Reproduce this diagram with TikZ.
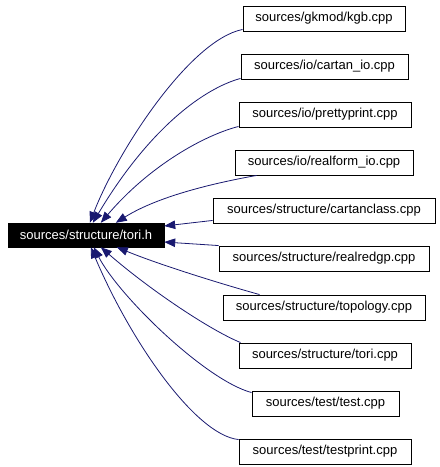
\documentclass[tikz,border=0pt]{standalone}
\usepackage{fontspec}
\setmainfont{Liberation Sans}
\usetikzlibrary{arrows.meta}
\definecolor{edgeblue}{HTML}{191970}
\begin{document}
\begin{tikzpicture}[x=1pt,y=-1pt,
  filebox/.style={draw=black,line width=0.9pt,fill=white,inner sep=0pt,minimum height=25pt,font=\fontsize{13}{15}\selectfont},
  mainbox/.style={draw=black,fill=black,text=white,inner sep=0pt,minimum height=24pt,minimum width=156pt,font=\fontsize{13}{15}\selectfont},
  dep/.style={draw=edgeblue,line width=0.8pt,-{Triangle[length=11pt,width=8.5pt]},fill=none}]
\useasboundingbox (0,0) rectangle (440,467);
\node[mainbox] (m) at (86,235) {sources/structure/tori.h};
\node[filebox,minimum width=162pt] (b1) at (324,18.5) {sources/gkmod/kgb.cpp};
\node[filebox,minimum width=167pt] (b2) at (324.5,66.5) {sources/io/cartan\_io.cpp};
\node[filebox,minimum width=172pt] (b3) at (325,114.5) {sources/io/prettyprint.cpp};
\node[filebox,minimum width=178pt] (b4) at (324,162.5) {sources/io/realform\_io.cpp};
\node[filebox,minimum width=222pt] (b5) at (324,210.5) {sources/structure/cartanclass.cpp};
\node[filebox,minimum width=210pt] (b6) at (324,258.5) {sources/structure/realredgp.cpp};
\node[filebox,minimum width=202pt] (b7) at (324,307.5) {sources/structure/topology.cpp};
\node[filebox,minimum width=172pt] (b8) at (325,355.5) {sources/structure/tori.cpp};
\node[filebox,minimum width=147pt] (b9) at (325.5,403.5) {sources/test/test.cpp};
\node[filebox,minimum width=172pt] (b10) at (325,451.5) {sources/test/testprint.cpp};
\draw[dep] ([yshift=2pt]b1.south west) .. controls (190,40) and (118,150) .. ([xshift=82pt]m.north west);
\draw[dep] ([yshift=1pt]b2.south west) .. controls (205,88) and (150,127) .. ([xshift=85pt]m.north west);
\draw[dep] ([yshift=1pt]b3.south west) .. controls (205,135) and (150,165) .. ([xshift=93pt]m.north west);
\draw[dep] ([xshift=22pt]b4.south west) .. controls (220,182) and (160,195) .. ([xshift=108pt]m.north west);
\draw[dep] ([yshift=3pt]b5.south west) -- ([yshift=9pt]m.east);
\draw[dep] (b6.north west) -- ([yshift=-7pt]m.east);
\draw[dep] ([xshift=37pt]b7.north west) .. controls (225,285) and (160,265) .. ([xshift=109pt]m.south west);
\draw[dep] ([xshift=2pt]b8.north west) .. controls (210,330) and (150,290) .. ([xshift=93pt]m.south west);
\draw[dep] ([yshift=-2pt]b9.north west) .. controls (205,380) and (118,295) .. ([xshift=86pt]m.south west);
\draw[dep] ([yshift=-1pt]b10.north west) .. controls (195,435) and (130,340) .. ([xshift=83pt]m.south west);
\end{tikzpicture}
\end{document}
